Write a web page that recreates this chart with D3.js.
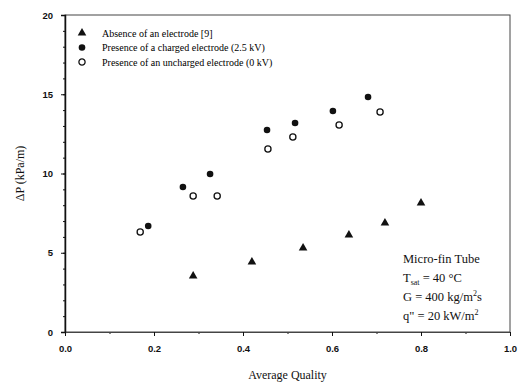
<!DOCTYPE html>
<html>
<head>
<meta charset="utf-8">
<script src="https://cdn.jsdelivr.net/npm/d3@7"></script>
<style>
    body { margin: 0; background: #fff; }
    svg { display: block; }
    .tick text { font-family: "Liberation Sans", Arial, sans-serif; font-size: 9.5px; font-weight: bold; fill: #111; }
</style>
</head>
<body>
<svg id="chart" width="523" height="385"></svg>
<script>
// data (average quality, pressure drop in kPa/m)
const absenceX = [0.288, 0.420, 0.535, 0.638, 0.719, 0.800];
const absenceY = [3.53, 4.42, 5.30, 6.12, 6.88, 8.14];

const chargedX = [0.187, 0.265, 0.326, 0.454, 0.517, 0.602, 0.681];
const chargedY = [6.69, 9.15, 9.97, 12.74, 13.19, 13.94, 14.83];

const unchargedX = [0.169, 0.288, 0.342, 0.456, 0.512, 0.616, 0.708];
const unchargedY = [6.31, 8.58, 8.58, 11.55, 12.30, 13.06, 13.88];

const xTicks = [0.0, 0.2, 0.4, 0.6, 0.8, 1.0];
const yTicks = [0, 5, 10, 15, 20];

const legendLabels = [
    'Absence of an electrode [9]',
    'Presence of a charged electrode (2.5 kV)',
    'Presence of an uncharged electrode (0 kV)'
];

const margin = { left: 65, right: 13, top: 15, bottom: 53 };
const svg = d3.select('#chart');
const width = +svg.attr('width');
const height = +svg.attr('height');

const x = d3.scaleLinear().domain([0, 1]).range([margin.left, width - margin.right]);
const y = d3.scaleLinear().domain([0, 20]).range([height - margin.bottom, margin.top]);

const ink = '#111';
const serif = '"Liberation Serif", "Times New Roman", serif';

// frame
svg.append('rect')
    .attr('x', x(0)).attr('y', y(20))
    .attr('width', x(1) - x(0)).attr('height', y(0) - y(20))
    .attr('fill', 'none').attr('stroke', '#444').attr('stroke-width', 1);

// minor ticks
svg.append('g')
    .attr('transform', `translate(${x(0)},0)`)
    .call(d3.axisLeft(y).tickValues(d3.range(0, 21, 1)).tickSize(2).tickFormat(''))
    .call(g => g.select('.domain').remove())
    .selectAll('line').attr('stroke', ink);

svg.append('g')
    .attr('transform', `translate(0,${y(0)})`)
    .call(d3.axisBottom(x).tickValues(d3.range(0, 1.01, 0.1)).tickSize(2).tickFormat(''))
    .call(g => g.select('.domain').remove())
    .selectAll('line').attr('stroke', ink);

// major axes
const yAxis = svg.append('g')
    .attr('transform', `translate(${x(0)},0)`)
    .call(d3.axisLeft(y).tickValues(yTicks).tickSize(4).tickPadding(8).tickFormat(d3.format('d')));
yAxis.select('.domain').attr('stroke', ink).attr('stroke-width', 1.5);
yAxis.selectAll('line').attr('stroke', ink);

const xAxis = svg.append('g')
    .attr('transform', `translate(0,${y(0)})`)
    .call(d3.axisBottom(x).tickValues(xTicks).tickSize(4).tickPadding(9).tickFormat(d3.format('.1f')));
xAxis.select('.domain').attr('stroke', '#444');
xAxis.selectAll('line').attr('stroke', ink);

// axis titles
svg.append('text')
    .attr('transform', `translate(24,${(y(0) + y(20)) / 2}) rotate(-90)`)
    .attr('text-anchor', 'middle')
    .attr('font-family', serif)
    .attr('font-size', 12).attr('fill', ink)
    .text('ΔP (kPa/m)');

svg.append('text')
    .attr('x', (x(0) + x(1)) / 2).attr('y', 379)
    .attr('text-anchor', 'middle')
    .attr('font-family', serif)
    .attr('font-size', 12).attr('fill', ink)
    .text('Average Quality');

// markers
const triangle = d3.symbol().type(d3.symbolTriangle).size(32);

svg.append('g').selectAll('path')
    .data(d3.zip(absenceX, absenceY))
    .join('path')
    .attr('d', triangle)
    .attr('transform', d => `translate(${x(d[0])},${y(d[1])})`)
    .attr('fill', ink);

svg.append('g').selectAll('circle')
    .data(d3.zip(chargedX, chargedY))
    .join('circle')
    .attr('cx', d => x(d[0])).attr('cy', d => y(d[1]))
    .attr('r', 3.3).attr('fill', ink);

svg.append('g').selectAll('circle')
    .data(d3.zip(unchargedX, unchargedY))
    .join('circle')
    .attr('cx', d => x(d[0])).attr('cy', d => y(d[1]))
    .attr('r', 3.1).attr('fill', '#fff').attr('stroke', ink).attr('stroke-width', 1.3);

// legend
const legend = svg.append('g').attr('transform', 'translate(82,33)');
legendLabels.forEach((label, i) => {
    const row = legend.append('g').attr('transform', `translate(0,${i * 14.5})`);
    if (i === 0) {
        row.append('path').attr('d', triangle).attr('fill', ink);
    } else if (i === 1) {
        row.append('circle').attr('r', 3.3).attr('fill', ink);
    } else {
        row.append('circle').attr('r', 3.1).attr('fill', '#fff').attr('stroke', ink).attr('stroke-width', 1.3);
    }
    row.append('text')
        .attr('x', 20).attr('y', 3.5)
        .attr('font-family', serif)
        .attr('font-size', 10).attr('fill', '#000')
        .text(label);
});

// conditions note
const note = svg.append('text')
    .attr('font-family', serif)
    .attr('font-size', 12.5).attr('fill', ink);
const noteX = 403;
note.append('tspan').attr('x', noteX).attr('y', 263).text('Micro-fin Tube');

const t2 = note.append('tspan').attr('x', noteX).attr('y', 282);
t2.append('tspan').text('T');
t2.append('tspan').attr('font-size', 8).attr('dy', 3).text('sat');
t2.append('tspan').attr('dy', -3).text(' = 40 °C');

const t3 = note.append('tspan').attr('x', noteX).attr('y', 301);
t3.append('tspan').text('G = 400 kg/m');
t3.append('tspan').attr('font-size', 8).attr('dy', -5).text('2');
t3.append('tspan').attr('dy', 5).text('s');

const t4 = note.append('tspan').attr('x', noteX).attr('y', 320);
t4.append('tspan').text('q" = 20 kW/m');
t4.append('tspan').attr('font-size', 8).attr('dy', -5).text('2');
</script>
</body>
</html>
